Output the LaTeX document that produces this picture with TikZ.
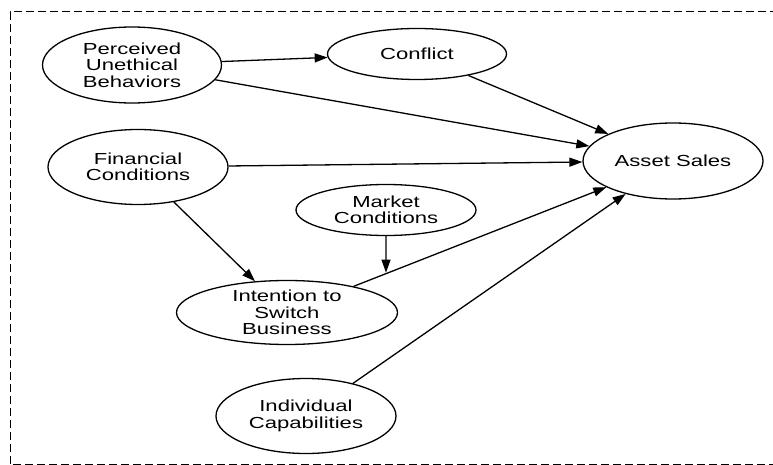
\documentclass[tikz,border=0pt]{standalone}
\usepackage{fontspec}
\setmainfont{Liberation Sans}
\newfontfamily\labelfont[FakeStretch=1.38]{Liberation Sans}
\usetikzlibrary{shapes.geometric,arrows.meta,calc}

\begin{document}
\begin{tikzpicture}[x=1pt,y=-1pt,
    factor/.style={ellipse, draw, line width=1.3pt, inner sep=0pt, align=center,
        font=\labelfont\fontsize{16}{16.5}\selectfont},
    link/.style={line width=1.3pt, -{Triangle[length=13pt,width=9pt]}}]

    \useasboundingbox (0,0) rectangle (773,465);
    \clip (0,0) rectangle (773,465);

    % dashed frame, runs off the right and bottom edges
    \draw[line width=1pt, dash pattern=on 8pt off 4pt]
        (790,12) -- (10,12) -- (10,464.6) -- (790,464.6);

    \node[factor, minimum width=179pt, minimum height=76pt] (pub) at (132,65) {Perceived\\Unethical\\Behaviors};
    \node[factor, minimum width=179pt, minimum height=51pt] (conflict) at (417,54) {Conflict};
    \node[factor, minimum width=180pt, minimum height=76pt] (sales) at (673,161) {Asset Sales};
    \node[factor, minimum width=180pt, minimum height=75pt] (fin) at (138,167) {Financial\\Conditions};
    \node[factor, minimum width=180pt, minimum height=51pt] (market) at (386,210) {Market\\Conditions};
    \node[factor, minimum width=221pt, minimum height=64pt, inner ysep=-3pt] (intent) at (287,312.5) {Intention to\\Switch\\Business};
    \node[factor, minimum width=180pt, minimum height=75pt] (indiv) at (306,416) {Individual\\Capabilities};

    \draw[link] (pub) -- (conflict);
    \draw[link] (pub) -- (sales);
    \draw[link] (conflict) -- (sales);
    \draw[link] (fin) -- (sales);
    \draw[link] (fin) -- (intent);
    \draw[link] (intent) -- (sales);
    \draw[link] (indiv) -- (sales);

    % market conditions acts on the intention -> sales path
    \coordinate (mod) at ($(intent)!0.2565!(sales)$);
    \draw[link, shorten >=1pt] (market) -- (mod);

\end{tikzpicture}
\end{document}
